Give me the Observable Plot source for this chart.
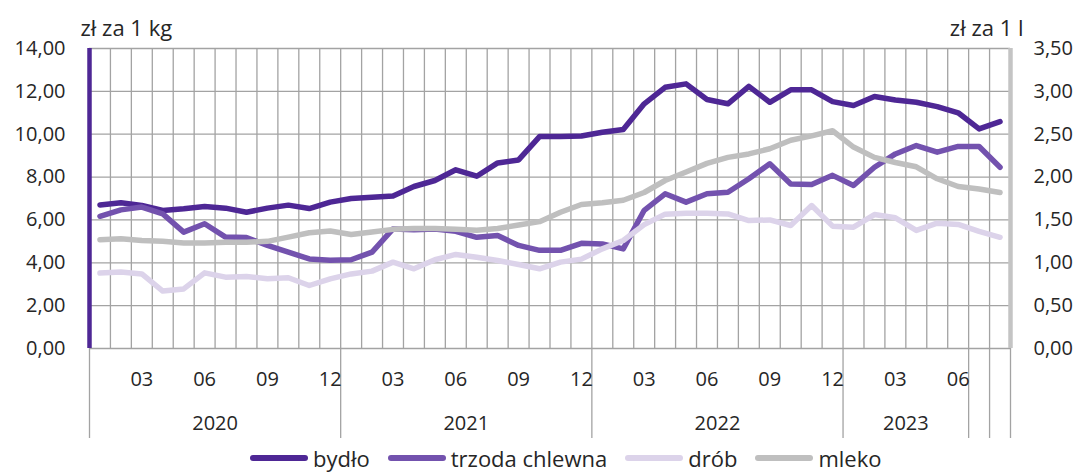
<!DOCTYPE html>
<html>
<head>
<meta charset="utf-8">
<script src="https://cdn.jsdelivr.net/npm/d3@7"></script>
<script src="https://cdn.jsdelivr.net/npm/@observablehq/plot@0.6"></script>
<style>
  body { margin: 0; background: #fff; font-family: "Open Sans", sans-serif; color: #262626; }
  #chart svg { display: block; overflow: visible; }
  #legend { display: flex; align-items: center; height: 28px; padding-left: 250px; font-size: 22px; line-height: 1; color: #262626; }
  .it { display: flex; align-items: center; margin-right: 18px; }
  .sw { display: inline-block; width: 58px; height: 6px; border-radius: 3px; margin-right: 5px; }
</style>
</head>
<body>
<div id="chart"></div>
<div id="legend"></div>
<script>
const periods = [
  "2020-01","2020-02","2020-03","2020-04","2020-05","2020-06","2020-07","2020-08","2020-09","2020-10","2020-11","2020-12",
  "2021-01","2021-02","2021-03","2021-04","2021-05","2021-06","2021-07","2021-08","2021-09","2021-10","2021-11","2021-12",
  "2022-01","2022-02","2022-03","2022-04","2022-05","2022-06","2022-07","2022-08","2022-09","2022-10","2022-11","2022-12",
  "2023-01","2023-02","2023-03","2023-04","2023-05","2023-06","2023-07","2023-08"
];
const bydlo = [
  6.70, 6.80, 6.68, 6.44, 6.52, 6.63, 6.55, 6.36, 6.55, 6.69, 6.53, 6.83,
  7.00, 7.06, 7.12, 7.56, 7.84, 8.34, 8.04, 8.66, 8.80, 9.89, 9.89, 9.92,
  10.09, 10.22, 11.42, 12.19, 12.35, 11.62, 11.42, 12.23, 11.49, 12.07, 12.07, 11.52,
  11.34, 11.76, 11.60, 11.49, 11.29, 11.00, 10.25, 10.59
];
const trzoda = [
  6.17, 6.47, 6.60, 6.28, 5.43, 5.82, 5.20, 5.18, 4.81, 4.50, 4.18, 4.12,
  4.14, 4.50, 5.58, 5.54, 5.58, 5.47, 5.19, 5.27, 4.81, 4.58, 4.58, 4.91,
  4.88, 4.65, 6.45, 7.22, 6.83, 7.22, 7.29, 7.92, 8.62, 7.68, 7.65, 8.08,
  7.61, 8.46, 9.08, 9.47, 9.16, 9.43, 9.43, 8.46
];
const drob = [
  3.52, 3.57, 3.48, 2.68, 2.78, 3.53, 3.33, 3.36, 3.25, 3.30, 2.94, 3.25,
  3.48, 3.61, 4.03, 3.72, 4.14, 4.39, 4.26, 4.11, 3.92, 3.72, 4.03, 4.17,
  4.65, 5.04, 5.78, 6.27, 6.31, 6.31, 6.28, 5.97, 6.00, 5.74, 6.67, 5.71,
  5.66, 6.25, 6.10, 5.51, 5.85, 5.79, 5.47, 5.19
];
const mleko = [
  1.27, 1.28, 1.26, 1.25, 1.23, 1.23, 1.24, 1.24, 1.25, 1.30, 1.35, 1.37,
  1.33, 1.36, 1.39, 1.40, 1.40, 1.39, 1.38, 1.40, 1.44, 1.48, 1.59, 1.68,
  1.70, 1.73, 1.82, 1.96, 2.06, 2.16, 2.23, 2.27, 2.33, 2.43, 2.48, 2.54,
  2.35, 2.23, 2.17, 2.12, 1.98, 1.89, 1.86, 1.82
];
const yTicksLeft = [0, 2, 4, 6, 8, 10, 12, 14];
const yTicksRight = [0, 0.5, 1, 1.5, 2, 2.5, 3, 3.5];
const years = ["2020", "2021", "2022", "2023"];
const groupBreaks = [0, 12, 24, 36, 42, 43, 44];
const seriesNames = ["bydło", "trzoda chlewna", "drób", "mleko"];
const colors = ["#4e2795", "#7352ae", "#dcd3ea", "#bfbfbf"];
const titleLeft = "zł za 1 kg";
const titleRight = "zł za 1 l";

const RATIO = 14 / 3.5;
const n = periods.length;
const fmt = v => v.toFixed(2).replace(".", ",");
const gridColor = "#a3a3a3";

const seriesValues = [bydlo, trzoda, drob, mleko];
const rows = seriesValues.map((vals, s) =>
  vals.map((v, i) => ({ series: seriesNames[s], x: i + 0.5, v: s === 3 ? v * RATIO : v }))
);

const monthTicks = periods
  .map((p, i) => ({ m: +p.slice(5), i }))
  .filter(d => d.m % 3 === 0)
  .map(d => d.i + 0.5);
const yearCenters = years.map((y, k) => (groupBreaks[k] + groupBreaks[k + 1]) / 2);

const lineOpts = (s) => ({
  x: "x", y: "v", stroke: colors[s], strokeWidth: 5.5,
  strokeLinejoin: "round", strokeLinecap: "round"
});

const chart = Plot.plot({
  width: 1080,
  height: 444,
  marginLeft: 89,
  marginRight: 70,
  marginTop: 48,
  marginBottom: 96,
  x: { domain: [0, n], axis: null },
  y: { domain: [0, 14], axis: null },
  style: { fontFamily: "Open Sans, sans-serif", fontSize: "20px", color: "#262626", overflow: "visible" },
  marks: [
    Plot.ruleY(yTicksLeft, { stroke: gridColor, strokeWidth: 1.3 }),
    Plot.ruleX(d3.range(n + 1), { y1: 0, y2: 14, stroke: gridColor, strokeWidth: 1.3 }),
    Plot.axisX({ ticks: groupBreaks, tickSize: 90, tickFormat: () => "", stroke: gridColor, strokeWidth: 1.3, label: null }),
    Plot.axisX({ ticks: monthTicks, tickSize: 0, tickPadding: 23, tickFormat: v => periods[Math.floor(v)].slice(5), fontSize: 20, label: null }),
    Plot.axisX({ ticks: yearCenters, tickSize: 0, tickPadding: 67, tickFormat: (v, k) => years[k], fontSize: 20, label: null }),
    Plot.axisY({ anchor: "left", ticks: yTicksLeft, tickSize: 0, tickPadding: 24, tickFormat: fmt, fontSize: 20, label: null }),
    Plot.axisY({ anchor: "right", ticks: yTicksRight.map(v => v * RATIO), tickSize: 0, tickPadding: 23, tickFormat: v => fmt(v / RATIO), fontSize: 20, label: null }),
    Plot.ruleX([0], { y1: 0, y2: 14, stroke: colors[0], strokeWidth: 4.5 }),
    Plot.ruleX([n], { y1: 0, y2: 14, stroke: "#c4c4c4", strokeWidth: 4.5 }),
    Plot.line(rows[0], lineOpts(0)),
    Plot.line(rows[1], lineOpts(1)),
    Plot.line(rows[2], lineOpts(2)),
    Plot.line(rows[3], lineOpts(3)),
    Plot.text([titleLeft], { text: d => d, frameAnchor: "top-left", textAnchor: "start", lineAnchor: "middle", dx: -9, dy: -20, fontSize: 22 }),
    Plot.text([titleRight], { text: d => d, frameAnchor: "top-right", textAnchor: "end", lineAnchor: "middle", dx: 13, dy: -20, fontSize: 22 })
  ]
});
document.getElementById("chart").appendChild(chart);

const legend = document.getElementById("legend");
seriesNames.forEach((name, i) => {
  const it = document.createElement("span");
  it.className = "it";
  const sw = document.createElement("span");
  sw.className = "sw";
  sw.style.background = colors[i];
  const tx = document.createElement("span");
  tx.textContent = name;
  it.appendChild(sw);
  it.appendChild(tx);
  legend.appendChild(it);
});
</script>
</body>
</html>
